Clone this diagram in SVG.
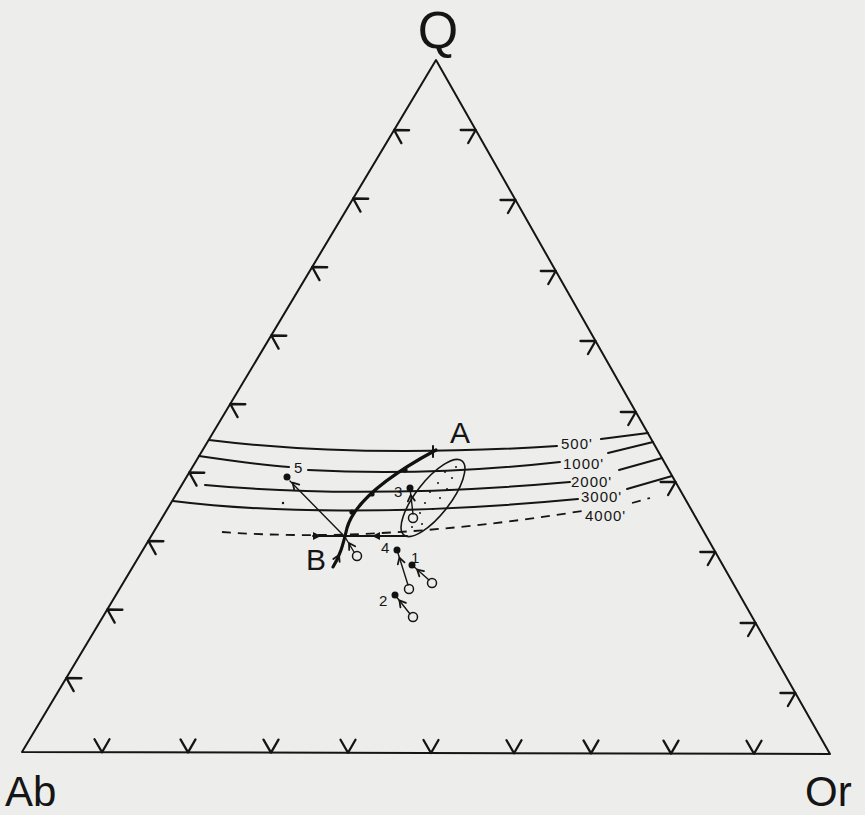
<svg xmlns="http://www.w3.org/2000/svg" width="865" height="815" viewBox="0 0 865 815">
<defs>
<style>
.ln{fill:none;stroke:#151515;stroke-width:2;stroke-linecap:round;stroke-linejoin:round}
.th{fill:none;stroke:#151515;stroke-width:1.4;stroke-linecap:round}
.thick{fill:none;stroke:#111;stroke-width:3.2;stroke-linecap:round}
.dash{fill:none;stroke:#151515;stroke-width:1.8;stroke-dasharray:9 7}
.lbl{font-family:"Liberation Sans","DejaVu Sans",sans-serif;fill:#151515}
.iso{font-size:15px;letter-spacing:1px}
.dot{fill:#111}
.oc{fill:none;stroke:#151515;stroke-width:1.5}
</style>
<path id="chev" d="M13,-7.5 L0,0 L13,7.5" fill="none" stroke="#151515" stroke-width="2.3" stroke-linecap="round" stroke-linejoin="round"/>
<path id="ah" d="M-6,-3.5 L0,0 L-6,3.5" fill="none" stroke="#151515" stroke-width="1.8" stroke-linecap="round" stroke-linejoin="round"/>
</defs>
<rect width="865" height="815" fill="#ededeb"/>

<g id="triangle">
<path class="ln" d="M22,752 L436,60 L830,754 Z"/>
<g id="ticks-left">
<use href="#chev" transform="translate(394.1,130) rotate(31)"/>
<use href="#chev" transform="translate(353.2,198.5) rotate(31)"/>
<use href="#chev" transform="translate(312.2,267) rotate(31)"/>
<use href="#chev" transform="translate(271.3,335.5) rotate(31)"/>
<use href="#chev" transform="translate(230.3,404) rotate(31)"/>
<use href="#chev" transform="translate(189.3,472.5) rotate(31)"/>
<use href="#chev" transform="translate(148.4,541) rotate(31)"/>
<use href="#chev" transform="translate(107.4,609.5) rotate(31)"/>
<use href="#chev" transform="translate(66.4,678) rotate(31)"/>
</g>
<g id="ticks-right">
<use href="#chev" transform="translate(475.7,130) rotate(150)"/>
<use href="#chev" transform="translate(515.5,200) rotate(150)"/>
<use href="#chev" transform="translate(555.8,271) rotate(150)"/>
<use href="#chev" transform="translate(595.5,341) rotate(150)"/>
<use href="#chev" transform="translate(635.8,412) rotate(150)"/>
<use href="#chev" transform="translate(675.6,482) rotate(150)"/>
<use href="#chev" transform="translate(715.3,552) rotate(150)"/>
<use href="#chev" transform="translate(755.6,623) rotate(150)"/>
<use href="#chev" transform="translate(795.4,693) rotate(150)"/>
</g>
<g id="ticks-bottom">
<use href="#chev" transform="translate(102,752.2) rotate(-90)"/>
<use href="#chev" transform="translate(188,752.4) rotate(-90)"/>
<use href="#chev" transform="translate(271,752.6) rotate(-90)"/>
<use href="#chev" transform="translate(348,752.8) rotate(-90)"/>
<use href="#chev" transform="translate(431,753) rotate(-90)"/>
<use href="#chev" transform="translate(514,753.2) rotate(-90)"/>
<use href="#chev" transform="translate(591,753.4) rotate(-90)"/>
<use href="#chev" transform="translate(671,753.6) rotate(-90)"/>
<use href="#chev" transform="translate(754,753.8) rotate(-90)"/>
</g>
</g>

<g id="node-Q"><text class="lbl" x="438" y="48" font-size="52" text-anchor="middle">Q</text></g>
<g id="node-Ab"><text class="lbl" x="5" y="806" font-size="42">Ab</text></g>
<g id="node-Or"><text class="lbl" x="805" y="806" font-size="42">Or</text></g>

<g id="isobars">
<path class="ln" d="M209,440 C290,450 400,456 557,446"/>
<path class="ln" d="M601,439 L648,433"/>
<text class="lbl iso" x="561" y="449">500'</text>
<path class="ln" d="M199,456 C240,462 268,466 289,467"/>
<path class="ln" d="M308,470 C380,474 470,472 560,462"/>
<path class="ln" d="M608,453 L653,442"/>
<text class="lbl iso" x="563" y="469">1000'</text>
<path class="ln" d="M205,485 C280,492 400,497 570,482"/>
<path class="ln" d="M619,470 L662,458"/>
<text class="lbl iso" x="571" y="487">2000'</text>
<path class="ln" d="M173,501 C260,512 400,516 578,499"/>
<path class="ln" d="M627,489 L672,476"/>
<text class="lbl iso" x="581" y="502">3000'</text>
<path class="dash" d="M222,532 C330,540 450,532 582,511"/>
<path class="dash" d="M632,503 L650,498"/>
<text class="lbl iso" x="585" y="521">4000'</text>
</g>

<g id="field-ellipse">
<ellipse cx="433" cy="498" rx="47" ry="17" transform="rotate(-52 433 498)" fill="none" stroke="#151515" stroke-width="1.6"/>
<g class="dot">
<circle cx="445" cy="472" r="1"/><circle cx="452" cy="478" r="1"/><circle cx="438" cy="483" r="1"/>
<circle cx="447" cy="489" r="1"/><circle cx="430" cy="492" r="1"/><circle cx="440" cy="498" r="1"/>
<circle cx="425" cy="503" r="1"/><circle cx="433" cy="509" r="1"/><circle cx="420" cy="513" r="1"/>
<circle cx="456" cy="467" r="1"/><circle cx="412" cy="527" r="1"/><circle cx="422" cy="524" r="1"/>
</g>
</g>

<g id="connectors">
<path class="thick" d="M436,450 C395,472 355,500 347,528 C343,545 340,556 333,567"/>
<path class="ln" d="M433,446 L433,457"/>
<circle class="dot" cx="405" cy="470" r="2.6"/>
<circle class="dot" cx="372" cy="494" r="2.6"/>
<circle class="dot" cx="352" cy="512" r="2.6"/>
<use href="#ah" transform="translate(339,555) rotate(-65)"/>
<path class="ln" d="M313,536 L407,536"/>
<path d="M372,536 L380,532 L380,540 Z" fill="#151515"/>
<path d="M321,536 L313,532 L313,540 Z" fill="#151515"/>
<path class="th" d="M290,481 L345,537"/>
<use href="#ah" transform="translate(292.6,482.7) rotate(-134)"/>
<path class="th" d="M345,537 L354,552"/>
<use href="#ah" transform="translate(349,543) rotate(-122)"/>
<path class="th" d="M410,488 L413,514"/>
<use href="#ah" transform="translate(410.7,495) rotate(-96)"/>
<path class="th" d="M397,550 L408,585"/>
<use href="#ah" transform="translate(399.4,557.6) rotate(-107)"/>
<path class="th" d="M412,565 L429,580"/>
<use href="#ah" transform="translate(417.2,569.7) rotate(-138)"/>
<path class="th" d="M395,595 L410,614"/>
<use href="#ah" transform="translate(399.4,600.4) rotate(-129)"/>
</g>

<g id="node-A"><text class="lbl" x="450" y="443" font-size="30">A</text></g>
<g id="node-B"><text class="lbl" x="306" y="570" font-size="30">B</text></g>
<g id="node-5"><circle class="dot" cx="287" cy="477" r="3.5"/><circle class="dot" cx="283" cy="503" r="1.2"/><text class="lbl" x="294" y="473" font-size="15">5</text></g>
<g id="node-3"><circle class="dot" cx="410" cy="488" r="3.5"/><circle class="oc" cx="413" cy="518" r="4.5"/><text class="lbl" x="394" y="497" font-size="15">3</text></g>
<g id="node-B0"><circle class="oc" cx="357" cy="556" r="4.5"/></g>
<g id="node-4"><circle class="dot" cx="397" cy="550" r="3.5"/><circle class="oc" cx="409" cy="589" r="4.5"/><text class="lbl" x="381" y="553" font-size="15">4</text></g>
<g id="node-1"><circle class="dot" cx="412" cy="565" r="3.5"/><circle class="oc" cx="432" cy="583" r="4.5"/><text class="lbl" x="411" y="563" font-size="15">1</text></g>
<g id="node-2"><circle class="dot" cx="395" cy="595" r="3.5"/><circle class="oc" cx="413" cy="617" r="4.5"/><text class="lbl" x="379" y="606" font-size="15">2</text></g>
</svg>
